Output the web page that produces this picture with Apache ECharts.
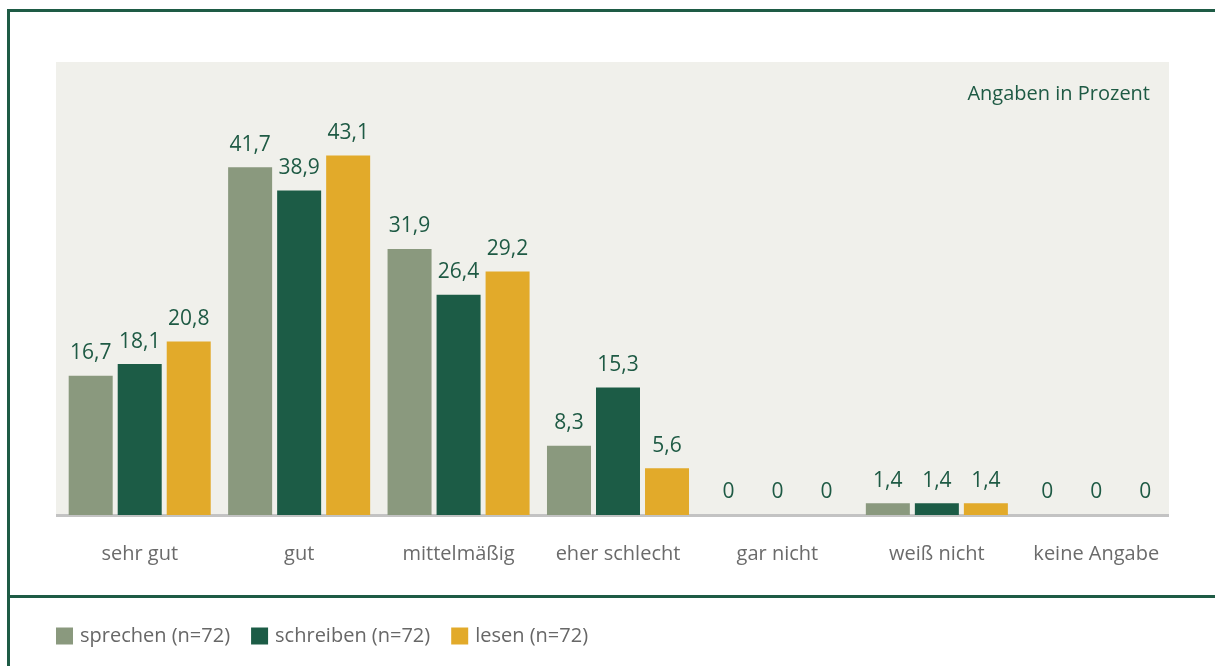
<!DOCTYPE html>
<html>
<head>
<meta charset="utf-8">
<script src="https://cdn.jsdelivr.net/npm/echarts@6/dist/echarts.min.js"></script>
<style>
  html, body { margin: 0; padding: 0; background: #fff; }
  #chart { width: 1215px; height: 666px; }
</style>
</head>
<body>
<div id="chart"></div>
<script>
// Kategorien und Werte (Angaben in Prozent)
const categories = ['sehr gut', 'gut', 'mittelmäßig', 'eher schlecht', 'gar nicht', 'weiß nicht', 'keine Angabe']
const seriesNames = ['sprechen (n=72)', 'schreiben (n=72)', 'lesen (n=72)']
const sprechen = [16.7, 41.7, 31.9, 8.3, 0, 1.4, 0]
const schreiben = [18.1, 38.9, 26.4, 15.3, 0, 1.4, 0]
const lesen = [20.8, 43.1, 29.2, 5.6, 0, 1.4, 0]

const colors = ['#8a997e', '#1c5c46', '#e2aa2a']
const font = '"Open Sans", "Noto Sans", sans-serif'
const green = '#1e5a44'

const chart = echarts.init(document.getElementById('chart'))

function makeSeries(name, data, color) {
  return {
    name,
    type: 'bar',
    data,
    barWidth: 44,
    barGap: '11.4%',
    itemStyle: { color },
    label: {
      show: true,
      position: 'top',
      distance: 12,
      color: green,
      fontSize: 21,
      fontFamily: font,
      formatter: (p) => String(p.value).replace('.', ','),
    },
  }
}

chart.setOption({
  animation: false,
  textStyle: { fontFamily: font },
  title: {
    text: 'Angaben in Prozent',
    right: 60,
    top: 79,
    textStyle: { color: green, fontSize: 20, fontWeight: 'normal', fontFamily: font },
  },
  legend: {
    data: seriesNames,
    left: 56,
    top: 626,
    padding: 0,
    icon: 'rect',
    itemWidth: 17,
    itemHeight: 17,
    itemGap: 21,
    textStyle: { color: '#676767', fontSize: 20, fontFamily: font, padding: [0, 0, 0, 2] },
  },
  grid: {
    left: 60,
    right: 39,
    top: 98,
    bottom: 151,
  },
  xAxis: {
    type: 'category',
    data: categories,
    axisLine: { show: false },
    axisTick: { show: false },
    axisLabel: { interval: 0, color: '#6b6b6b', fontSize: 20, margin: 29, fontFamily: font },
  },
  yAxis: {
    type: 'value',
    min: 0,
    max: 50,
    show: false,
    splitLine: { show: false },
  },
  graphic: [
    // Hintergrund der Zeichenfläche
    { type: 'rect', z: -10, shape: { x: 56, y: 62, width: 1113, height: 453 }, style: { fill: '#f0f0eb' } },
    // Grundlinie
    { type: 'rect', z: -5, shape: { x: 56, y: 514, width: 1113, height: 3 }, style: { fill: '#c3c3c3' } },
    // Rahmen
    { type: 'rect', shape: { x: 7, y: 9, width: 1208, height: 3 }, style: { fill: '#1e5b45' } },
    { type: 'rect', shape: { x: 7, y: 9, width: 3, height: 657 }, style: { fill: '#1e5b45' } },
    { type: 'rect', shape: { x: 7, y: 595, width: 1208, height: 3 }, style: { fill: '#1e5b45' } },
  ],
  series: [
    makeSeries(seriesNames[0], sprechen, colors[0]),
    makeSeries(seriesNames[1], schreiben, colors[1]),
    makeSeries(seriesNames[2], lesen, colors[2]),
  ],
})
</script>
</body>
</html>
